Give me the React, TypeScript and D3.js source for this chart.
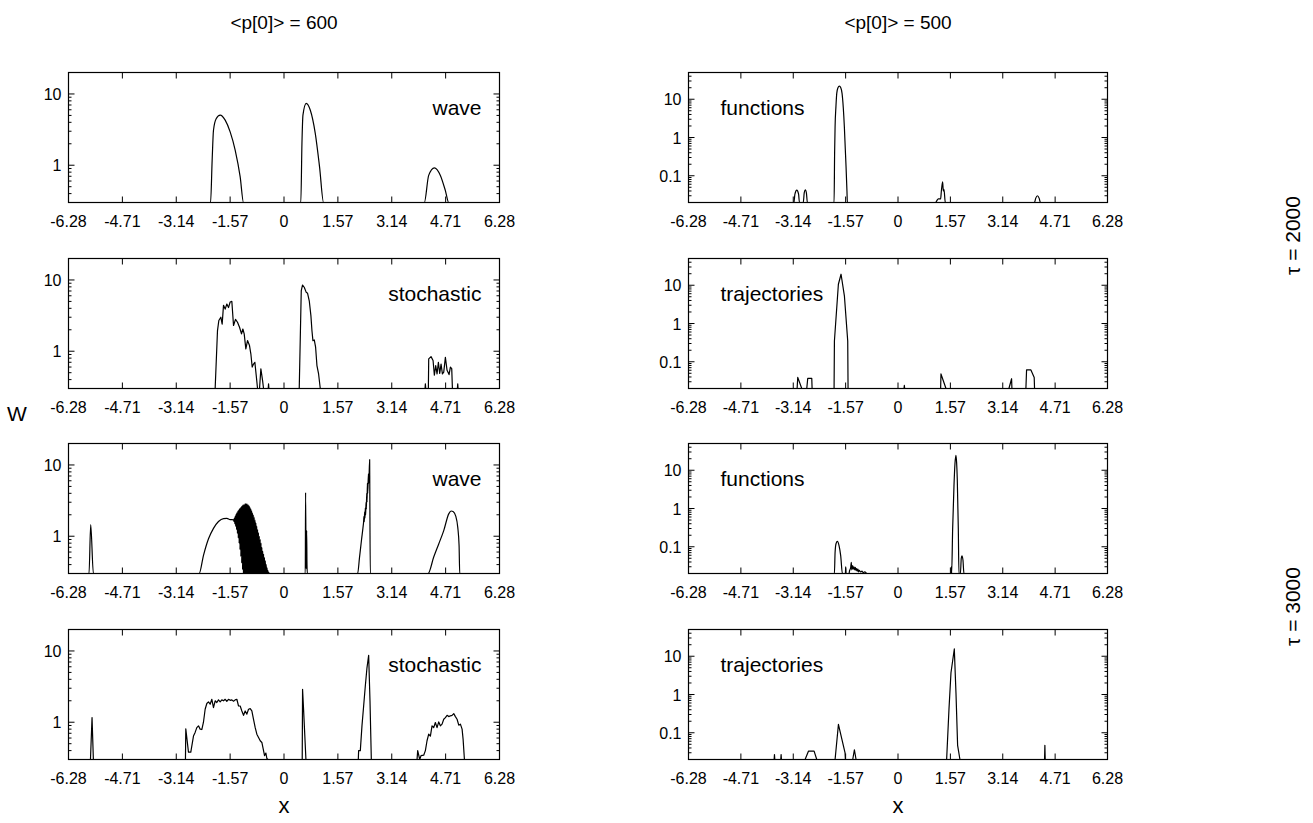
import React from 'react';
import * as d3 from 'd3';

type Pt = [number, number];

// ---- axis / label data ----
const xTickValues = [-6.28, -4.71, -3.14, -1.57, 0, 1.57, 3.14, 4.71, 6.28];
const xTickLabels = ['-6.28', '-4.71', '-3.14', '-1.57', '0', '1.57', '3.14', '4.71', '6.28'];
const leftYTicks = [1, 10];
const leftYTickLabels = ['1', '10'];
const rightYTicks = [0.1, 1, 10];
const rightYTickLabels = ['0.1', '1', '10'];
const leftYDomain: [number, number] = [0.3, 20];
const rightYDomain: [number, number] = [0.02, 50];
const xDomain: [number, number] = [-6.28, 6.28];
const columnTitles = ['<p[0]> = 600', '<p[0]> = 500'];
const rowGroupTitles = ['τ = 2000', 'τ = 3000'];
const panelLabels = ['wave', 'functions', 'stochastic', 'trajectories', 'wave', 'functions', 'stochastic', 'trajectories'];
const yAxisTitle = 'W';
const xAxisTitle = 'x';

// ---- series (x, W); 0 means below the plotted range ----
const waveTau2000: Pt[] = [
  [-6.28, 0], [-2.14, 0], [-2.094, 1.17], [-2.055, 3.1], [-1.977, 4.5], [-1.86, 5.06], [-1.714, 4.3],
  [-1.569, 2.94], [-1.423, 1.63], [-1.277, 0.685], [-1.18, 0],
  [0.49, 0], [0.523, 2.02], [0.552, 5.06], [0.648, 7.4], [0.765, 5.95], [0.911, 2.8], [1.036, 0.95], [1.153, 0],
  [4.09, 0], [4.216, 0.72], [4.382, 0.92], [4.557, 0.72], [4.703, 0.44], [4.8, 0], [6.28, 0],
];

const functionsTau2000: Pt[] = [
  [-6.28, 0], [-3.12, 0], [-3.09, 0.033], [-3.034, 0.042], [-2.98, 0.033], [-2.955, 0],
  [-2.84, 0], [-2.81, 0.036], [-2.776, 0.043], [-2.745, 0.035], [-2.716, 0],
  [-1.916, 0], [-1.9, 0.4], [-1.886, 1.9], [-1.86, 6.5], [-1.836, 14.2], [-1.8, 20], [-1.757, 22],
  [-1.715, 20], [-1.677, 14.2], [-1.64, 6], [-1.608, 1.9], [-1.58, 0.5], [-1.557, 0.17], [-1.53, 0.04], [-1.518, 0],
  [1.13, 0], [1.16, 0.022], [1.208, 0.025], [1.278, 0.025], [1.3, 0.04], [1.338, 0.069], [1.358, 0.04],
  [1.378, 0.044], [1.418, 0],
  [4.09, 0], [4.13, 0.026], [4.18, 0.03], [4.23, 0.026], [4.27, 0], [6.28, 0],
];

const stochasticTau2000: Pt[] = [
  [-6.28, 0], [-2.006, 0], [-1.938, 1.95], [-1.899, 2.7], [-1.841, 3.0], [-1.802, 2.4], [-1.763, 4.4],
  [-1.714, 3.9], [-1.666, 4.6], [-1.617, 4.1], [-1.569, 4.9], [-1.52, 5.0], [-1.471, 2.3], [-1.413, 2.8],
  [-1.355, 2.55], [-1.296, 2.17], [-1.238, 1.75], [-1.199, 2.05], [-1.16, 1.75], [-1.112, 1.08],
  [-1.063, 1.41], [-1.005, 1.2], [-0.966, 0.92], [-0.927, 0.6], [-0.888, 0.66], [-0.849, 0.7],
  [-0.81, 0.46], [-0.771, 0], [-0.713, 0], [-0.674, 0.565], [-0.625, 0.39], [-0.596, 0],
  [-0.46, 0], [-0.45, 0.35], [-0.44, 0],
  [0.444, 0], [0.503, 7.1], [0.541, 8.5], [0.59, 7.9], [0.648, 6.7], [0.687, 6.5], [0.736, 5.1],
  [0.784, 3.16], [0.814, 1.95], [0.843, 1.41], [0.882, 1.44], [0.921, 1.14], [0.96, 0.63], [1.008, 0.48], [1.057, 0],
  [4.11, 0], [4.12, 0.35], [4.13, 0], [4.207, 0], [4.217, 0.78], [4.285, 0.84], [4.344, 0.74], [4.382, 0.46],
  [4.421, 0.63], [4.46, 0.48], [4.499, 0.7], [4.538, 0.49], [4.577, 0.66], [4.616, 0.48], [4.655, 0.51],
  [4.703, 0.82], [4.752, 0.54], [4.81, 0.47], [4.849, 0.6], [4.888, 0.57], [4.908, 0],
  [5.053, 0], [5.063, 0.35], [5.073, 0], [6.28, 0],
];

const trajectoriesTau2000: Pt[] = [
  [-6.28, 0], [-3.024, 0], [-3.005, 0.039], [-2.885, 0], [-2.735, 0], [-2.705, 0.037], [-2.585, 0.037], [-2.575, 0],
  [-1.916, 0], [-1.906, 0.35], [-1.787, 10.6], [-1.707, 19.4], [-1.607, 5.3], [-1.507, 0.35], [-1.497, 0],
  [0.18, 0], [0.19, 0.024], [0.2, 0],
  [1.278, 0], [1.288, 0.048], [1.438, 0],
  [3.325, 0], [3.405, 0.036], [3.415, 0],
  [3.834, 0], [3.854, 0.061], [3.984, 0.061], [4.083, 0.039], [4.093, 0], [6.28, 0],
];

const waveTau3000: Pt[] = [
  [-6.28, 0], [-5.682, 0], [-5.633, 1.46], [-5.555, 0],
  [-2.473, 0], [-2.346, 0.54], [-2.2, 0.92], [-2.055, 1.29], [-1.909, 1.61], [-1.763, 1.77], [-1.666, 1.78],
  [-1.569, 1.71],
  [-1.47, 1.7], [-1.4575, 1.62], [-1.445, 1.8], [-1.4325, 1.5], [-1.42, 1.92], [-1.4075, 1.38],
  [-1.395, 2.05], [-1.3825, 1.25], [-1.37, 2.15], [-1.3575, 1.1], [-1.345, 2.25], [-1.3325, 0.95],
  [-1.32, 2.35], [-1.3075, 0.8], [-1.295, 2.45], [-1.2825, 0.65], [-1.27, 2.52], [-1.2575, 0.52],
  [-1.245, 2.6], [-1.2325, 0.42], [-1.22, 2.68], [-1.2075, 0.34], [-1.195, 2.75], [-1.1825, 0],
  [-1.17, 2.8], [-1.1575, 0], [-1.145, 2.85], [-1.1325, 0], [-1.12, 2.9], [-1.1075, 0],
  [-1.095, 2.88], [-1.0825, 0], [-1.07, 2.85], [-1.0575, 0], [-1.045, 2.78], [-1.0325, 0],
  [-1.02, 2.7], [-1.0075, 0], [-0.995, 2.58], [-0.9825, 0], [-0.97, 2.45], [-0.9575, 0],
  [-0.945, 2.3], [-0.9325, 0], [-0.92, 2.15], [-0.9075, 0], [-0.895, 2.0], [-0.8825, 0],
  [-0.87, 1.85], [-0.8575, 0], [-0.845, 1.7], [-0.8325, 0], [-0.82, 1.55], [-0.8075, 0],
  [-0.795, 1.4], [-0.7825, 0], [-0.77, 1.25], [-0.7575, 0], [-0.745, 1.12], [-0.7325, 0],
  [-0.72, 1.0], [-0.7075, 0], [-0.695, 0.9], [-0.6825, 0], [-0.67, 0.8], [-0.6575, 0],
  [-0.645, 0.7], [-0.6325, 0], [-0.62, 0.62], [-0.6075, 0], [-0.595, 0.56], [-0.5825, 0],
  [-0.57, 0.5], [-0.5575, 0], [-0.545, 0.45], [-0.5325, 0], [-0.52, 0.4], [-0.5075, 0],
  [-0.495, 0.36], [-0.4825, 0], [-0.47, 0.33], [-0.4575, 0], [-0.445, 0.31], [-0.43, 0],
  [0.62, 0], [0.629, 4.1], [0.645, 0.35], [0.66, 1.2], [0.67, 0.4], [0.68, 0],
  [2.146, 0], [2.2, 0.5], [2.26, 0.9], [2.3, 1.3], [2.32, 1.6], [2.33, 1.9], [2.34, 1.6], [2.35, 2.2],
  [2.36, 1.8], [2.37, 2.5], [2.38, 2.0], [2.39, 3.0], [2.4, 2.4], [2.41, 4.0], [2.42, 3.0], [2.43, 5.5],
  [2.44, 4.0], [2.46, 7.5], [2.47, 5.5], [2.496, 11.9], [2.5, 5], [2.515, 0],
  [4.198, 0], [4.363, 0.51], [4.509, 0.78], [4.655, 1.2], [4.801, 2.06], [4.869, 2.26], [4.927, 2.22],
  [5.005, 1.91], [5.063, 1.34], [5.102, 0.74], [5.121, 0], [6.28, 0],
];

const functionsTau3000: Pt[] = [
  [-6.28, 0], [-1.906, 0], [-1.886, 0.071], [-1.856, 0.122], [-1.816, 0.138], [-1.766, 0.106], [-1.717, 0.058],
  [-1.667, 0],
  [-1.577, 0], [-1.567, 0.03], [-1.557, 0],
  [-1.47, 0], [-1.45, 0.024], [-1.42, 0.028], [-1.4, 0.039], [-1.385, 0.025], [-1.36, 0.032], [-1.34, 0.026],
  [-1.32, 0.03], [-1.3, 0.025], [-1.28, 0.029], [-1.26, 0.024], [-1.24, 0.027], [-1.22, 0.023], [-1.2, 0.026],
  [-1.18, 0.022], [-1.16, 0.024], [-1.12, 0.022], [-1.08, 0.023], [-1.04, 0.021], [-1.0, 0.022], [-0.96, 0.021],
  [-0.94, 0],
  [1.588, 0], [1.598, 0.03], [1.608, 0], [1.638, 0.29], [1.678, 3.9], [1.708, 15], [1.737, 24.6], [1.757, 16],
  [1.777, 5.8], [1.808, 0.29], [1.827, 0],
  [1.87, 0], [1.897, 0.05], [1.917, 0.058], [1.947, 0.045], [1.977, 0], [6.28, 0],
];

const stochasticTau3000: Pt[] = [
  [-6.28, 0], [-5.64, 0], [-5.594, 1.16], [-5.555, 0],
  [-2.872, 0], [-2.862, 0.81], [-2.784, 0.38], [-2.716, 0.38], [-2.638, 0.64], [-2.59, 0.72], [-2.541, 0.84],
  [-2.492, 0.89], [-2.444, 0.8], [-2.395, 0.79], [-2.347, 1.0], [-2.298, 1.52], [-2.249, 1.83], [-2.201, 1.93],
  [-2.152, 1.79], [-2.103, 2.1], [-2.055, 1.6], [-2.006, 2.0], [-1.958, 1.89], [-1.909, 2.06], [-1.86, 1.93],
  [-1.812, 2.06], [-1.763, 2.0], [-1.714, 2.1], [-1.666, 1.97], [-1.617, 2.1], [-1.569, 2.03], [-1.52, 2.06],
  [-1.471, 1.97], [-1.423, 2.06], [-1.374, 2.1], [-1.325, 1.69], [-1.277, 1.69], [-1.228, 1.44], [-1.179, 1.25],
  [-1.131, 1.44], [-1.082, 1.3], [-1.034, 1.52], [-0.985, 1.55], [-0.937, 1.44], [-0.888, 1.1], [-0.839, 0.84],
  [-0.791, 0.68], [-0.742, 0.61], [-0.693, 0.55], [-0.645, 0.52], [-0.596, 0.4], [-0.567, 0.34], [-0.528, 0.37],
  [-0.499, 0.31], [-0.47, 0],
  [0.531, 0], [0.541, 2.9], [0.571, 1.5], [0.639, 0],
  [2.165, 0], [2.175, 0.4], [2.224, 0.4], [2.272, 0.89], [2.321, 1.69], [2.369, 3.2], [2.418, 5.8],
  [2.467, 8.7], [2.506, 2.0], [2.545, 0],
  [3.877, 0], [3.896, 0.4], [3.955, 0], [3.993, 0.34], [4.071, 0.345], [4.12, 0.4], [4.168, 0.55],
  [4.217, 0.68], [4.266, 0.64], [4.314, 0.89], [4.363, 0.84], [4.411, 0.99], [4.46, 0.84], [4.509, 1.01],
  [4.557, 0.89], [4.606, 0.94], [4.655, 1.1], [4.703, 1.16], [4.752, 1.25], [4.801, 1.2], [4.849, 1.23],
  [4.898, 1.25], [4.947, 1.32], [4.995, 1.2], [5.044, 1.1], [5.093, 0.91], [5.141, 0.94], [5.19, 0.8],
  [5.219, 0.58], [5.258, 0], [6.28, 0],
];

const trajectoriesTau3000: Pt[] = [
  [-6.28, 0], [-3.713, 0], [-3.703, 0.027], [-3.693, 0], [-3.514, 0], [-3.504, 0.027], [-3.494, 0],
  [-2.785, 0], [-2.685, 0.033], [-2.515, 0.033], [-2.435, 0],
  [-1.886, 0], [-1.786, 0.165], [-1.587, 0.03], [-1.577, 0],
  [-1.357, 0], [-1.307, 0.036], [-1.257, 0],
  [1.458, 0], [1.528, 0.41], [1.588, 3.7], [1.688, 15.5], [1.738, 1.1], [1.787, 0.047], [1.857, 0],
  [4.393, 0], [4.403, 0.047], [4.413, 0], [6.28, 0],
];

// ---- layout ----
const FONT = '"Liberation Sans", Arial, Helvetica, sans-serif';
const colX: [number, number][] = [[68.5, 499.5], [688.5, 1107.5]];
const rowTop = [72.5, 258.5, 443.5, 629.5];
const panelH = 130;

const panelSeries: Pt[][] = [
  waveTau2000, functionsTau2000, stochasticTau2000, trajectoriesTau2000,
  waveTau3000, functionsTau3000, stochasticTau3000, trajectoriesTau3000,
];
const panelSmooth = [true, true, false, false, true, true, false, false];

function Panel(props: { idx: number }) {
  const { idx } = props;
  const row = Math.floor(idx / 2);
  const col = idx % 2;
  const [x0, x1] = colX[col];
  const y0 = rowTop[row];
  const y1 = y0 + panelH;
  const domain = col === 0 ? leftYDomain : rightYDomain;
  const yTicks = col === 0 ? leftYTicks : rightYTicks;
  const yTickLabels = col === 0 ? leftYTickLabels : rightYTickLabels;
  const xs = d3.scaleLinear().domain(xDomain).range([x0, x1]);
  const ys = d3.scaleLog().domain(domain).range([y1, y0]);
  const line = d3
    .line<Pt>()
    .x((d) => xs(d[0]))
    .y((d) => ys(Math.max(d[1], domain[0])))
    .curve(panelSmooth[idx] ? d3.curveMonotoneX : d3.curveLinear);
  const minor: number[] = [];
  const eLo = Math.floor(Math.log10(domain[0]));
  const eHi = Math.ceil(Math.log10(domain[1]));
  for (let e = eLo; e <= eHi; e++) {
    for (let k = 2; k <= 9; k++) {
      const v = k * Math.pow(10, e);
      if (v > domain[0] && v < domain[1]) minor.push(v);
    }
  }
  const clipId = `clip-${idx}`;
  const label = panelLabels[idx];
  return (
    <g>
      <defs>
        <clipPath id={clipId}>
          <rect x={x0} y={y0} width={x1 - x0} height={y1 - y0} />
        </clipPath>
      </defs>
      {xTickValues.map((t, i) => (
        <g key={'xt' + i}>
          <line x1={xs(t)} x2={xs(t)} y1={y1} y2={y1 - 6} stroke="#000" strokeWidth={1} />
          <line x1={xs(t)} x2={xs(t)} y1={y0} y2={y0 + 6} stroke="#000" strokeWidth={1} />
          <text x={xs(t)} y={y1 + 24} textAnchor="middle" fontSize={16} fontFamily={FONT} fill="#000">
            {xTickLabels[i]}
          </text>
        </g>
      ))}
      {yTicks.map((t, i) => (
        <g key={'yt' + i}>
          <line x1={x0} x2={x0 + 6} y1={ys(t)} y2={ys(t)} stroke="#000" strokeWidth={1} />
          <line x1={x1} x2={x1 - 6} y1={ys(t)} y2={ys(t)} stroke="#000" strokeWidth={1} />
          <text x={x0 - 7} y={ys(t) + 6} textAnchor="end" fontSize={16} fontFamily={FONT} fill="#000">
            {yTickLabels[i]}
          </text>
        </g>
      ))}
      {minor.map((t, i) => (
        <g key={'ym' + i}>
          <line x1={x0} x2={x0 + 3} y1={ys(t)} y2={ys(t)} stroke="#000" strokeWidth={1} />
          <line x1={x1} x2={x1 - 3} y1={ys(t)} y2={ys(t)} stroke="#000" strokeWidth={1} />
        </g>
      ))}
      <path
        d={line(panelSeries[idx]) || ''}
        fill="none"
        stroke="#000"
        strokeWidth={1.2}
        strokeLinejoin="round"
        clipPath={`url(#${clipId})`}
      />
      <rect x={x0} y={y0} width={x1 - x0} height={y1 - y0} fill="none" stroke="#000" strokeWidth={1.2} />
      <text
        x={col === 0 ? x1 - 18 : x0 + 32}
        y={y0 + 42}
        textAnchor={col === 0 ? 'end' : 'start'}
        fontSize={21}
        fontFamily={FONT}
        fill="#000"
      >
        {label}
      </text>
    </g>
  );
}

export default function App() {
  const panels = [0, 1, 2, 3, 4, 5, 6, 7];
  const colCenter = colX.map(([a, b]) => (a + b) / 2);
  return (
    <svg
      width={1313}
      height={823}
      viewBox="0 0 1313 823"
      style={{ position: 'absolute', left: 0, top: 0, background: '#fff', display: 'block' }}
    >
      <rect x={0} y={0} width={1313} height={823} fill="#fff" />
      {panels.map((i) => (
        <Panel key={i} idx={i} />
      ))}
      {columnTitles.map((t, i) => (
        <text key={'ct' + i} x={colCenter[i]} y={29} textAnchor="middle" fontSize={19} fontFamily={FONT} fill="#000">
          {t}
        </text>
      ))}
      {colCenter.map((cx, i) => (
        <text key={'xl' + i} x={cx} y={813} textAnchor="middle" fontSize={22} fontFamily={FONT} fill="#000">
          {xAxisTitle}
        </text>
      ))}
      <text x={17} y={421} textAnchor="middle" fontSize={21} fontFamily={FONT} fill="#000">
        {yAxisTitle}
      </text>
      {rowGroupTitles.map((t, i) => {
        const cy = (rowTop[i * 2] + rowTop[i * 2 + 1] + panelH) / 2;
        return (
          <text
            key={'rt' + i}
            transform={`translate(1300, ${cy + 5}) rotate(-90)`}
            textAnchor="middle"
            fontSize={21}
            fontFamily={FONT}
            fill="#000"
          >
            {t}
          </text>
        );
      })}
    </svg>
  );
}
